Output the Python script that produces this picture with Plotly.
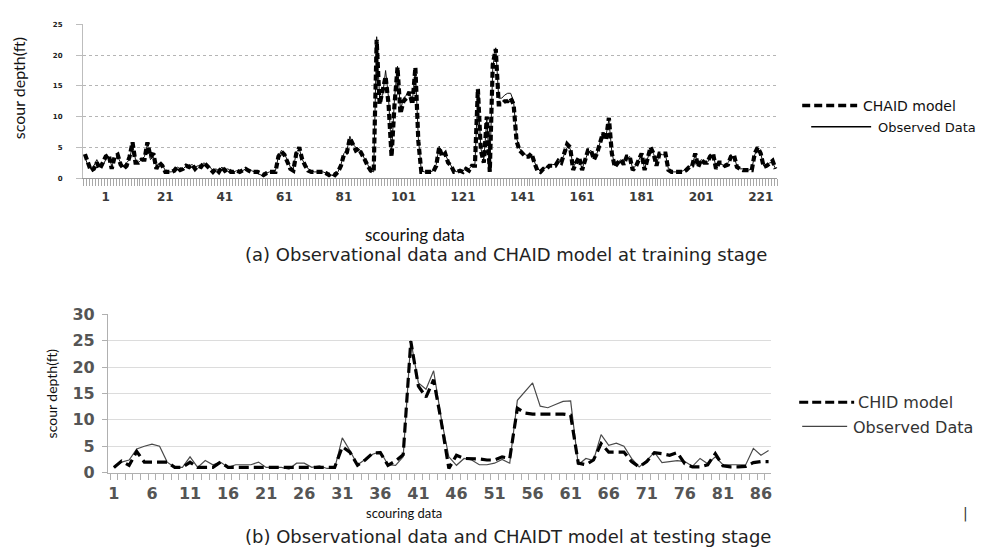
import plotly.graph_objects as go

# ---------------- data ----------------
# (a) training stage: 233 samples
train_chaid = [
    3.9, 2.5, 1.2, 1.5, 2.5, 1.5, 2.5, 3.5, 3.8, 1.5,
    3.5, 3.8, 2.2, 1.5, 2, 3.5, 5.8, 2.5, 2.5, 3,
    3, 5.8, 3.5, 4, 1.5, 2.5, 2, 1, 1, 1,
    1.2, 1.8, 1.3, 1.5, 2, 1.8, 2.2, 1.5, 2, 1.8,
    2.5, 2, 1.5, 1, 1.5, 1, 1.8, 1.2, 1.5, 1,
    1, 1.2, 1, 1.2, 1.5, 1.2, 1, 1, 1, 0.8,
    0.5, 0.8, 1, 1, 1, 3.5, 4.3, 3.8, 2.5, 1.5,
    1.2, 4, 5, 3, 2, 1.2, 1, 1, 1, 1,
    1, 0.8, 0.5, 0.8, 0.5, 1, 2, 3.8, 4.2, 6.5,
    5.5, 4.5, 4.8, 4, 3, 2, 1.2, 1, 22.5, 12,
    14, 16.5, 12, 3.5, 12, 18, 10.5, 12.5, 13, 14,
    12, 18, 6, 1, 1, 1, 1, 1, 2, 5,
    3.5, 4, 2.5, 2, 1, 1, 1.2, 1, 1.5, 1.2,
    2, 2, 14.5, 4.5, 2.5, 10, 1, 18.5, 21, 12,
    12, 12.5, 12.5, 13, 12, 6, 4.5, 4, 3.5, 3.5,
    4, 2.5, 1.2, 1, 1.5, 1.5, 2, 2, 2, 2.8,
    2.5, 4, 5.5, 5, 1.3, 2.5, 3.4, 1.3, 3, 4.5,
    4.5, 3, 4, 5.5, 7.3, 6.2, 9.8, 4, 1.8, 2.5,
    3, 2.2, 3.5, 3.5, 1.3, 1.8, 3, 4, 1.3, 3,
    5, 4, 2, 4, 4, 4, 1.3, 1, 1, 1,
    1, 1, 1.3, 1.8, 2, 4, 1.8, 3, 2.5, 2.5,
    3.5, 4, 1.5, 2.5, 2.5, 2, 2.2, 3.5, 3.8, 1.8,
    1.5, 1.3, 1.3, 1.3, 1.3, 4, 5, 4, 1.8, 2,
    2.5, 2.8, 1.5,
]
train_obs = [
    3.5, 2, 1.5, 2, 3, 2, 2, 3, 3.5, 2,
    3, 3.5, 2.5, 2, 2.5, 3, 5.5, 3, 2.5, 3,
    3.5, 5.5, 3, 3.5, 2, 2.4, 2.2, 1.2, 1, 1,
    1.3, 1.8, 1.5, 1.5, 2, 2, 2.2, 1.8, 2, 2,
    2.5, 2, 1.8, 1.2, 1.5, 1.2, 1.8, 1.2, 1.5, 1.2,
    1, 1.2, 1.2, 1.2, 1.5, 1.2, 1.2, 1, 0.8, 0.5,
    0.3, 0.8, 1, 1, 1.2, 3.5, 4.5, 4, 2.8, 1.8,
    1.5, 4.2, 4.8, 3, 2.2, 1.5, 1.2, 1, 1, 1,
    1, 0.8, 0.6, 0.5, 0.3, 1, 2.2, 4, 4.5, 6.8,
    5.5, 5, 4.8, 4.2, 3, 2.2, 1.2, 1, 23, 13,
    13.5, 17.5, 13, 4, 13, 18.2, 11, 13, 13.5, 14,
    12.5, 17.8, 6.5, 1.2, 1, 1, 1, 1.2, 2.2, 5.2,
    3.8, 3.8, 2.8, 2, 1.2, 1, 1.2, 1.2, 1.5, 1.5,
    2, 2.2, 14, 4.8, 3, 9.5, 1.5, 18, 21.2, 13,
    13, 13.5, 13.8, 13.8, 12.5, 6.5, 4.8, 4.2, 3.8, 3.5,
    3.8, 2.5, 1.5, 1.2, 1.5, 1.8, 2, 2.2, 2.2, 3,
    2.8, 3.8, 5, 4.8, 1.8, 2.5, 3, 1.5, 3, 4.2,
    4.5, 3.2, 4, 5.8, 7.5, 6.8, 9.5, 4.2, 2, 2.5,
    3, 2.5, 3.2, 3.5, 1.5, 2, 3, 3.8, 1.5, 3,
    4.8, 4, 2.2, 4, 3.8, 3.8, 1.5, 1, 1, 1,
    1, 1.2, 1.5, 1.8, 2.2, 3.8, 2, 3, 2.8, 2.5,
    3.2, 3.8, 1.8, 2.5, 2.2, 2, 2.5, 3.2, 3.5, 2,
    1.5, 1.5, 1.3, 1.3, 1.5, 3.8, 4.8, 4, 2, 2,
    2.5, 2.5, 1.5,
]
train_idx = list(range(1, len(train_chaid) + 1))
train_tick_pos = list(range(8, 234, 20))          # where the printed labels sit
train_tick_text = [str(v) for v in range(1, 222, 20)]

# (b) testing stage: 87 samples
test_chid = [
    1, 2.2, 1.4, 4, 2, 2, 2, 2, 1, 1,
    2, 1, 1, 1, 2, 1, 1, 1, 1, 1,
    1, 1, 1, 1, 1, 1, 1, 1, 1, 1,
    4.9, 3.9, 1.4, 2.4, 3.7, 3.8, 1.4, 2.2, 3.4, 24.9,
    16.4, 14.3, 17.6, 9.7, 0.8, 3.3, 2.7, 2.7, 2.6, 2.4,
    2.4, 3, 2.7, 12.2, 11.3, 11.1, 11.1, 11.1, 11.1, 11.1,
    10.9, 1.8, 1.5, 2.4, 5.5, 3.9, 3.9, 3.9, 2.1, 1.1,
    2.1, 3.8, 3.6, 3.3, 3.8, 1.7, 1.1, 1.1, 1.5, 3.6,
    1.3, 1.1, 1.1, 1.2, 1.9, 2.1, 2.1,
]
test_obs = [
    1, 2, 2.4, 4.5, 5, 5.4, 5, 2, 1, 1,
    3, 1, 2.3, 1.5, 2, 1, 1.5, 1.5, 1.5, 2,
    1, 1, 1, 0.7, 1.8, 1.8, 1, 1.3, 0.8, 0.8,
    6.6, 4.2, 1.5, 2.5, 3.5, 4, 1.5, 1.4, 3, 25,
    17, 15.8, 19.3, 10.3, 3, 1.4, 2.7, 2.4, 1.5, 1.5,
    1.8, 2.5, 1.8, 13.7, 15.3, 17, 12.6, 12.3, 12.9, 13.5,
    13.6, 1.5, 2.7, 2.3, 7.2, 5.2, 5.6, 5, 2.7, 1.1,
    2.3, 3.9, 1.9, 2.1, 2.3, 2.1, 1.2, 2.7, 1.7, 3,
    1.5, 1.5, 1.5, 1.5, 4.6, 3.3, 4.2,
]
test_idx = list(range(1, len(test_chid) + 1))
test_tick_pos = list(range(1, 87, 5))
test_tick_text = [str(v) for v in test_tick_pos]

# ---------------- figure ----------------
W, H = 1005, 559
def px(x): return x / W
def py(y): return 1 - y / H

fig = go.Figure()
fig.add_trace(go.Scatter(x=train_idx, y=train_obs, mode="lines", name="Observed Data",
                         line=dict(color="#111111", width=1), xaxis="x", yaxis="y",
                         showlegend=False))
fig.add_trace(go.Scatter(x=train_idx, y=train_chaid, mode="lines", name="CHAID model",
                         line=dict(color="#000000", width=4.2, dash="6px,3px"),
                         xaxis="x", yaxis="y", showlegend=False))
fig.add_trace(go.Scatter(x=test_idx, y=test_obs, mode="lines", name="Observed Data",
                         line=dict(color="#4a4a4a", width=1.2), xaxis="x2", yaxis="y2",
                         showlegend=False))
fig.add_trace(go.Scatter(x=test_idx, y=test_chid, mode="lines", name="CHID model",
                         line=dict(color="#000000", width=3.2, dash="10px,5px"),
                         xaxis="x2", yaxis="y2", showlegend=False))

top_x_dom = [px(83), px(778)]
top_y_dom = [py(175), py(16)]
bot_x_dom = [px(108), px(772)]
bot_y_dom = [py(480), py(316)]

fig.update_layout(
    width=W, height=H, autosize=False,
    margin=dict(l=0, r=0, t=0, b=0),
    paper_bgcolor="white", plot_bgcolor="white",
    showlegend=False,
    xaxis=dict(domain=top_x_dom, anchor="y", range=[0.33, 233.55],
               tickmode="array", tickvals=train_tick_pos, ticktext=train_tick_text,
               ticks="", showgrid=False, zeroline=False,
               showline=True, linecolor="#9a9a9a", linewidth=1,
               tickfont=dict(family="DejaVu Sans", size=12, color="#3a3a3a", weight="bold"),
               ticklabelstandoff=8,
               minor=dict(ticks="outside", ticklen=7, tickcolor="#a8a8a8",
                          tickmode="linear", tick0=0.5, dtick=1, showgrid=False)),
    yaxis=dict(domain=top_y_dom, anchor="x", range=[0, 25], dtick=5,
               showgrid=True, gridcolor="#b5b5b5", griddash="dot", gridwidth=1,
               zeroline=False, showline=True, linecolor="#bdbdbd", linewidth=1,
               ticks="outside", ticklen=6, tickcolor="#bdbdbd",
               ticklabelstandoff=12,
               tickfont=dict(family="DejaVu Sans", size=7, color="#222222", weight="bold")),
    xaxis2=dict(domain=bot_x_dom, anchor="y2", range=[0.21, 87.35],
                tickmode="array", tickvals=test_tick_pos, ticktext=test_tick_text,
                ticks="", showgrid=False, zeroline=False,
                showline=True, linecolor="#b0b0b0", linewidth=1,
                tickfont=dict(family="DejaVu Sans", size=16, color="#555555", weight="bold"),
                ticklabelstandoff=6,
                minor=dict(ticks="outside", ticklen=6, tickcolor="#b0b0b0",
                           tickmode="linear", tick0=0.5, dtick=1, showgrid=False)),
    yaxis2=dict(domain=bot_y_dom, anchor="x2", range=[0, 30], dtick=5,
                showgrid=True, gridcolor="#dcdcdc", gridwidth=1,
                zeroline=False, showline=True, linecolor="#b0b0b0", linewidth=1,
                ticks="outside", ticklen=5, tickcolor="#b0b0b0",
                ticklabelstandoff=4,
                tickfont=dict(family="DejaVu Sans", size=16, color="#555555", weight="bold")),
)

ann = []
def text(x, y, s, size, family="DejaVu Sans", color="#222222", xanchor="center",
         angle=0, weight="normal"):
    ann.append(dict(x=px(x), y=py(y), xref="paper", yref="paper", text=s,
                    showarrow=False, xanchor=xanchor, yanchor="middle", textangle=angle,
                    font=dict(family=family, size=size, color=color, weight=weight)))

# axis titles & captions
text(18, 82, "scour depth(ft)", 16, family="Lato", angle=-90, color="#111111")
text(415, 233, "scouring data", 17, family="Lato", color="#111111")
text(507, 254, "(a) Observational data and CHAID model at training stage", 18)
text(52, 398, "scour depth(ft)", 14, family="Lato", angle=-90, color="#111111")
text(404, 522, "scouring data", 13, family="Lato", color="#111111")
text(509, 546, "(b) Observational data and CHAIDT model at testing stage", 18)
text(966, 522, "|", 14, color="#333333")

# legends
text(862, 100, "CHAID model", 14, xanchor="left", color="#111111")
text(877, 123, "Observed Data", 13, xanchor="left", color="#111111")
text(857, 407, "CHID model", 16, xanchor="left", color="#333333")
text(852, 433, "Observed Data", 16, xanchor="left", color="#333333")
fig.update_layout(annotations=ann)

shapes = [
    dict(type="line", xref="paper", yref="paper", x0=px(803), x1=px(858), y0=py(100), y1=py(100),
         line=dict(color="#000000", width=3.5, dash="8px,4px")),
    dict(type="line", xref="paper", yref="paper", x0=px(812), x1=px(872), y0=py(122), y1=py(122),
         line=dict(color="#000000", width=1.5)),
    dict(type="line", xref="paper", yref="paper", x0=px(800), x1=px(855), y0=py(407), y1=py(407),
         line=dict(color="#000000", width=3, dash="9px,4px")),
    dict(type="line", xref="paper", yref="paper", x0=px(803), x1=px(848), y0=py(432), y1=py(432),
         line=dict(color="#444444", width=1.2)),
]
fig.update_layout(shapes=shapes)

fig.write_html("out.html")
